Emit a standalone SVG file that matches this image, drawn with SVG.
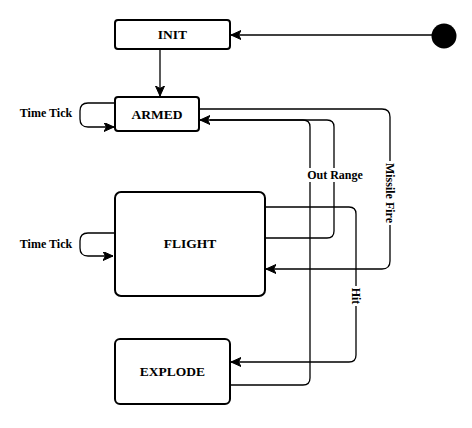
<svg xmlns="http://www.w3.org/2000/svg" width="472" height="428" viewBox="0 0 472 428">
<style>
.box{fill:#fff;stroke:#000;stroke-width:2}
.name{font-family:"Liberation Serif","Times New Roman",serif;font-weight:bold;font-size:13.5px;fill:#000;text-anchor:middle;dominant-baseline:central}
.lbl{font-family:"Liberation Serif","Times New Roman",serif;font-weight:bold;font-size:12px;fill:#000;text-anchor:middle;dominant-baseline:central}
.edge{fill:none;stroke:#000;stroke-width:1.3}
.arr{marker-end:url(#ah)}
.bg{fill:#fff}
</style>
<defs>
<marker id="ah" markerUnits="userSpaceOnUse" markerWidth="12" markerHeight="10" refX="10" refY="4.5" orient="auto" viewBox="0 0 12 10">
<path d="M0,0 L10,4.5 L0,9 L2.5,4.5 Z" fill="#000" stroke="#000" stroke-width="1"/>
</marker>
</defs>
<rect width="472" height="428" fill="#fff"/>
<g id="connectors">
<path class="edge arr" d="M432,35 L231,35"/>
<path class="edge arr" d="M160,49 L160,96"/>
<path class="edge arr" d="M115,103 L88,103 Q80,103 80,111 L80,119 Q80,127 88,127 L114,127"/>
<path class="edge arr" d="M199,109 L382,109 Q390,109 390,117 L390,261 Q390,269 382,269 L266,269"/>
<path class="edge arr" d="M265,238 L327,238 Q334,238 334,231 L334,127 Q334,120 327,120 L200,120"/>
<path class="edge" d="M230,385 L303,385 Q310,385 310,378 L310,127 Q310,120 303,120 L210,120"/>
<path class="edge arr" d="M265,207 L349,207 Q356,207 356,214 L356,355 Q356,362 349,362 L231,362"/>
<path class="edge arr" d="M114,233 L88,233 Q80,233 80,241 L80,248 Q80,256 88,256 L113,256"/>
</g>
<g id="labels">
<text class="lbl" x="46" y="113">Time Tick</text>
<text class="lbl" x="46" y="244">Time Tick</text>
<rect class="bg" x="304" y="168" width="62" height="14"/>
<text class="lbl" x="335" y="175">Out Range</text>
<g transform="translate(390,193) rotate(90)">
<rect class="bg" x="-32" y="-7" width="64" height="14"/>
<text class="lbl" x="0" y="0">Missile Fire</text>
</g>
<g transform="translate(356,296) rotate(90)">
<rect class="bg" x="-10" y="-7" width="20" height="14"/>
<text class="lbl" x="0" y="0">Hit</text>
</g>
</g>
<g id="start">
<circle cx="444" cy="36" r="12.5" fill="#000"/>
</g>
<g id="init">
<rect class="box" x="115" y="20" width="115" height="29" rx="3"/>
<text class="name" x="172.5" y="34.5">INIT</text>
</g>
<g id="armed">
<rect class="box" x="115" y="97" width="84" height="34" rx="3"/>
<text class="name" x="157" y="114">ARMED</text>
</g>
<g id="flight">
<rect class="box" x="115" y="192" width="150" height="104" rx="6"/>
<text class="name" x="190" y="243">FLIGHT</text>
</g>
<g id="explode">
<rect class="box" x="115" y="339" width="115" height="65" rx="5"/>
<text class="name" x="172.5" y="371">EXPLODE</text>
</g>
</svg>
